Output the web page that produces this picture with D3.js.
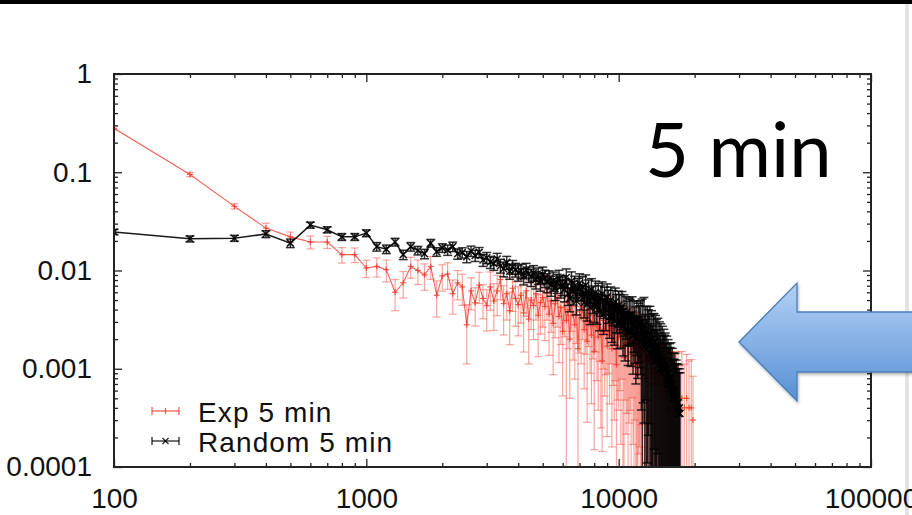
<!DOCTYPE html>
<html><head><meta charset="utf-8">
<script src="https://cdn.jsdelivr.net/npm/d3@7"></script>
<style>body{margin:0;background:#fff;overflow:hidden;} svg{display:block;}</style>
</head><body><svg id="c" width="912" height="515"></svg>
<script>
// ---------- data ----------
const xTicks = [100, 1000, 10000, 100000];
const xTickLabels = ["100", "1000", "10000", "100000"];
const yTicks = [1, 0.1, 0.01, 0.001, 0.0001];
const yTickLabels = ["1", "0.1", "0.01", "0.001", "0.0001"];
const seriesNames = ["Exp 5 min", "Random 5 min"];
const titleText = "5 min";

// bin sizes (x) ; null value = empty bin (not drawn on log scale)
const expBins = [
100,200,300,400,500,600,700,800,900,1000,
1100,1200,1300,1400,1500,1600,1700,1800,1900,2000,
2100,2200,2300,2400,2500,2600,2700,2800,2900,3000,
3100,3200,3300,3400,3500,3600,3700,3800,3900,4000,
4100,4200,4300,4400,4500,4600,4700,4800,4900,5000,
5100,5200,5300,5400,5500,5600,5700,5800,5900,6000,
6100,6200,6300,6400,6500,6600,6700,6800,6900,7000,
7100,7200,7300,7400,7500,7600,7700,7800,7900,8000,
8100,8200,8300,8400,8500,8600,8700,8800,8900,9000,
9100,9200,9300,9400,9500,9600,9700,9800,9900,10000,
10100,10200,10300,10400,10500,10600,10700,10800,10900,11000,
11100,11200,11300,11400,11500,11600,11700,11800,11900,12000,
12100,12200,12300,12400,12500,12600,12700,12800,12900,13000,
13100,13200,13300,13400,13500,13600,13700,13800,13900,14000,
14100,14200,14300,14400,14500,14600,14700,14800,14900,15000,
15100,15200,15300,15400,15500,15600,15700,15800,15900,16000,
16100,16200,16300,16400,16500,16600,16700,16800,16900,17000,
17100,17200,17300,17400,17500,17600,17700,17800,17900,18000,
18100,18200,18300,18400,18500,18600,18700,18800,18900,19000,
19100,19200,19300,19400,19500,19600,19700];
const expValues = [
0.28,0.095,0.045,0.027,0.022,0.0195,0.0195,0.0145,0.0145,0.0106,
0.011,0.0102,0.006,0.0075,0.011,0.01,0.009,0.011,0.0056,0.0088,
0.0092,0.0058,0.0075,0.0068,0.0028,0.0062,0.0047,0.0071,0.0052,0.0044,
0.0068,0.0049,0.0062,0.0081,0.0046,0.0058,0.0039,0.0066,0.0052,0.0045,
0.0056,0.0037,0.0062,0.0032,0.005,0.0044,0.0058,0.0035,0.0047,0.0053,
0.0043,0.006,0.0036,0.0049,0.0029,0.0046,0.0053,0.0034,0.0042,0.0024,
0.0047,0.0031,0.004,0.002,0.005,0.0035,0.0028,0.0043,0.0016,0.0038,
0.0033,0.0044,0.0025,0.0037,0.0019,0.004,0.003,0.0022,0.0035,0.0015,
0.0037,0.0027,0.0021,0.0034,0.0025,0.0012,0.0031,0.0024,0.0029,0.0017,
0.003,0.0022,0.0033,0.0016,0.0026,0.002,0.0027,0.0011,0.0024,0.0021,
0.0025,0.0017,0.0028,0.0021,0.0013,0.0024,0.0018,0.0022,0.0012,0.002,
0.0021,0.0014,0.0023,0.0017,0.0011,0.002,0.0016,0.0018,0.0009,0.0017,
0.0016,0.0012,0.0018,0.0013,null,0.0016,0.0012,0.0014,0.0008,0.0013,
0.0012,null,0.0014,0.001,0.0007,0.0012,null,0.001,0.0007,0.0009,
0.0009,0.0007,null,0.0008,0.0006,null,0.0007,0.0008,null,0.0007,
0.0007,null,0.0008,0.0005,null,0.0006,null,0.0007,0.0004,null,
0.0006,null,0.0007,null,0.0004,null,0.0005,null,0.0006,null,
null,0.0005,null,null,0.0004,null,null,0.0005,null,null,
null,0.0004,null,null,null,0.0005,null,null,null,0.0004,
null,null,null,0.0004,null,null,0.0003];
const expRelErr = [
0.04,0.05,0.06,0.12,0.12,0.15,0.14,0.18,0.17,0.2,
0.22,0.25,0.35,0.3,0.24,0.28,0.3,0.26,0.4,0.3,
0.3,0.38,0.33,0.35,0.6,0.36,0.42,0.35,0.38,0.45,
0.42,0.5,0.44,0.38,0.52,0.46,0.55,0.42,0.48,0.52,
0.48,0.6,0.45,0.65,0.5,0.55,0.46,0.62,0.52,0.5,
0.55,0.48,0.62,0.52,0.7,0.55,0.5,0.66,0.58,0.78,
0.55,1.1,0.6,0.75,0.52,0.65,0.72,0.58,1.2,0.62,
0.66,0.55,0.75,0.62,0.85,0.58,0.7,0.8,0.64,0.9,
0.6,0.72,0.82,0.65,0.9,0.88,0.68,0.78,0.7,0.88,
0.7,0.8,0.66,0.9,0.74,0.85,0.72,1.1,0.8,0.82,
0.76,0.9,0.72,1.1,0.95,0.8,0.88,0.84,1.15,0.86,
0.82,1.05,0.78,0.9,1.2,0.85,0.95,1.1,1.3,0.92,
0.9,1.1,0.85,1.2,1.3,0.95,1.1,1.0,1.4,1.05,
1.1,1.2,0.95,1.3,1.4,1.05,1.2,1.15,1.5,1.2,
1.2,1.4,1.1,1.3,1.5,1.2,1.4,1.3,1.6,1.35,
1.3,1.5,1.2,1.6,1.4,1.5,1.7,1.3,1.8,1.5,
1.5,1.7,1.3,1.9,1.6,1.5,1.8,1.6,1.5,1.9,
1.6,1.9,1.4,2.0,1.7,1.9,1.6,2.0,1.7,1.9,
2.0,1.8,2.1,1.7,2.0,1.8,2.1,2.0,1.7,2.0,
1.8,2.0,1.7,2.1,1.8,2.0,1.8];

const randBins = [
100,200,300,400,500,600,700,800,900,1000,
1100,1200,1300,1400,1500,1600,1700,1800,1900,2000,
2100,2200,2300,2400,2500,2600,2700,2800,2900,3000,
3100,3200,3300,3400,3500,3600,3700,3800,3900,4000,
4100,4200,4300,4400,4500,4600,4700,4800,4900,5000,
5100,5200,5300,5400,5500,5600,5700,5800,5900,6000,
6100,6200,6300,6400,6500,6600,6700,6800,6900,7000,
7100,7200,7300,7400,7500,7600,7700,7800,7900,8000,
8100,8200,8300,8400,8500,8600,8700,8800,8900,9000,
9100,9200,9300,9400,9500,9600,9700,9800,9900,10000,
10100,10200,10300,10400,10500,10600,10700,10800,10900,11000,
11100,11200,11300,11400,11500,11600,11700,11800,11900,12000,
12100,12200,12300,12400,12500,12600,12700,12800,12900,13000,
13100,13200,13300,13400,13500,13600,13700,13800,13900,14000,
14100,14200,14300,14400,14500,14600,14700,14800,14900,15000,
15100,15200,15300,15400,15500,15600,15700,15800,15900,16000,
16100,16200,16300,16400,16500,16600,16700,16800,16900,17000,
17100,17200,17300,17400,17500];
const randValues = [
0.0247,0.021,0.0213,0.0235,0.019,0.029,0.026,0.022,0.022,0.024,
0.0175,0.0165,0.0195,0.0145,0.0175,0.016,0.0148,0.019,0.0155,0.017,
0.0162,0.0175,0.0148,0.0152,0.0138,0.0158,0.0142,0.0153,0.0128,0.0135,
0.0122,0.0118,0.0131,0.0112,0.0104,0.0121,0.0098,0.0109,0.0102,0.0095,
0.0099,0.0088,0.0101,0.0092,0.0086,0.0095,0.0081,0.0089,0.0078,0.0091,
0.0084,0.0076,0.0082,0.0071,0.0079,0.0066,0.0075,0.0083,0.0069,0.0072,
0.0064,0.0085,0.0058,0.0052,0.0078,0.0061,0.007,0.0049,0.0066,0.0074,
0.0055,0.0068,0.0047,0.0071,0.0045,0.0062,0.0042,0.0064,0.0053,0.0044,
0.006,0.0043,0.0056,0.0038,0.0052,0.0058,0.0036,0.005,0.004,0.0054,
0.0046,0.0034,0.005,0.0032,0.0045,0.0031,0.0048,0.004,0.0029,0.0044,
0.004,0.003,0.0043,0.0027,0.0039,0.0025,0.0037,0.0033,0.0024,0.0035,
0.0034,0.0024,0.0036,0.0022,0.0032,0.0027,0.002,0.0031,0.0021,0.0029,
0.0027,0.0029,0.0019,0.0025,0.0018,0.0028,0.0017,0.0024,0.0016,0.0022,
0.0021,0.0017,0.0023,0.0014,0.002,0.0013,0.0018,0.0019,0.0012,0.0017,
0.0016,0.0012,0.0017,0.0011,0.0015,0.001,0.0014,0.0009,0.0013,0.001,
0.0012,0.001,0.0011,0.0008,0.001,0.0007,0.0009,0.0007,0.0008,0.0007,
0.0008,0.0006,0.0007,0.0005,0.0006,0.0005,0.0006,0.00045,0.0005,0.00045,
0.0004,0.00045,0.00035,0.0004,0.00035];
const randRelErr = [
0.06,0.07,0.07,0.08,0.1,0.07,0.07,0.08,0.08,0.08,
0.1,0.1,0.09,0.11,0.1,0.1,0.11,0.09,0.1,0.1,
0.12,0.11,0.12,0.12,0.13,0.12,0.13,0.12,0.14,0.13,
0.14,0.15,0.14,0.16,0.17,0.15,0.17,0.16,0.16,0.18,
0.17,0.19,0.17,0.18,0.2,0.18,0.2,0.19,0.21,0.19,
0.2,0.22,0.21,0.23,0.22,0.25,0.22,0.21,0.24,0.23,
0.25,0.22,0.24,0.27,0.24,0.27,0.25,0.28,0.26,0.25,
0.28,0.27,0.3,0.27,0.32,0.29,0.33,0.29,0.31,0.33,
0.3,0.34,0.32,0.36,0.34,0.32,0.38,0.35,0.39,0.35,
0.37,0.4,0.36,0.42,0.39,0.44,0.38,0.42,0.45,0.4,
0.43,0.46,0.42,0.5,0.45,0.52,0.46,0.48,0.55,0.5,
0.5,0.56,0.5,0.6,0.54,0.58,0.65,0.56,0.62,0.6,
0.62,0.7,0.8,1.05,0.75,0.9,1.1,0.8,1.0,0.95,
0.9,1.02,0.88,1.05,0.95,1.1,1.0,0.92,1.08,1.05,
0.98,1.05,0.92,1.1,1.0,1.15,1.05,1.2,1.08,1.15,
1.1,1.2,1.1,1.25,1.15,1.3,1.2,1.3,1.25,1.35,
1.3,1.4,1.3,1.45,1.4,1.5,1.4,1.5,1.45,1.5,
1.5,1.45,1.6,1.5,1.6];

// ---------- drawing ----------
const svg = d3.select("#c");
const W = 912, H = 515;
const plot = {left: 114, right: 871, top: 74, bottom: 467};
const x = d3.scaleLog().domain([100, 100000]).range([plot.left, plot.right]);
const y = d3.scaleLog().domain([0.0001, 1]).range([plot.bottom, plot.top]);

// slide frame
svg.append("rect").attr("x", 0).attr("y", 0).attr("width", W).attr("height", H).attr("fill", "#fff");
svg.append("rect").attr("x", 0).attr("y", 0).attr("width", W).attr("height", 4).attr("fill", "#000");
svg.append("rect").attr("x", 905).attr("y", 4).attr("width", 4).attr("height", H).attr("fill", "#e4e4e4");

const tickFont = "'Liberation Sans', Arial, Helvetica, sans-serif";

// minor tick values
const xMinor = [], yMinor = [];
[100, 1000, 10000].forEach(d => { for (let k = 2; k <= 9; k++) xMinor.push(k * d); });
[0.0001, 0.001, 0.01, 0.1].forEach(d => { for (let k = 2; k <= 9; k++) yMinor.push(k * d); });

function styleAxis(g) {
  g.select(".domain").remove();
  g.selectAll(".tick line").attr("stroke", "#222").attr("stroke-width", 1.3);
}

// bottom
svg.append("g").attr("transform", `translate(0,${plot.bottom})`)
  .call(d3.axisBottom(x).tickValues(xTicks).tickFormat((d, i) => xTickLabels[i]).tickSize(-8).tickSizeOuter(0).tickPadding(21))
  .call(styleAxis)
  .call(g => g.selectAll("text").attr("font-family", tickFont).attr("font-size", 28).attr("fill", "#111"));
svg.append("g").attr("transform", `translate(0,${plot.bottom})`)
  .call(d3.axisBottom(x).tickValues(xMinor).tickFormat("").tickSize(-4).tickSizeOuter(0)).call(styleAxis);
// top
svg.append("g").attr("transform", `translate(0,${plot.top})`)
  .call(d3.axisTop(x).tickValues(xTicks).tickFormat("").tickSize(-8).tickSizeOuter(0)).call(styleAxis);
svg.append("g").attr("transform", `translate(0,${plot.top})`)
  .call(d3.axisTop(x).tickValues(xMinor).tickFormat("").tickSize(-4).tickSizeOuter(0)).call(styleAxis);
// left
svg.append("g").attr("transform", `translate(${plot.left},0)`)
  .call(d3.axisLeft(y).tickValues(yTicks).tickFormat((d, i) => yTickLabels[i]).tickSize(-8).tickSizeOuter(0).tickPadding(22))
  .call(styleAxis)
  .call(g => g.selectAll("text").attr("font-family", tickFont).attr("font-size", 28).attr("fill", "#111"));
svg.append("g").attr("transform", `translate(${plot.left},0)`)
  .call(d3.axisLeft(y).tickValues(yMinor).tickFormat("").tickSize(-4).tickSizeOuter(0)).call(styleAxis);
// right
svg.append("g").attr("transform", `translate(${plot.right},0)`)
  .call(d3.axisRight(y).tickValues(yTicks).tickFormat("").tickSize(-8).tickSizeOuter(0)).call(styleAxis);
svg.append("g").attr("transform", `translate(${plot.right},0)`)
  .call(d3.axisRight(y).tickValues(yMinor).tickFormat("").tickSize(-4).tickSizeOuter(0)).call(styleAxis);

// clip
svg.append("clipPath").attr("id", "pc").append("rect")
  .attr("x", plot.left).attr("y", plot.top).attr("width", plot.right - plot.left).attr("height", plot.bottom - plot.top);

function buildSeries(bins, vals, rel) {
  return bins.map((b, i) => ({x: b, v: vals[i], lo: vals[i] == null ? null : vals[i] * (1 - rel[i]),
                               hi: vals[i] == null ? null : vals[i] * (1 + rel[i])}));
}
const expData = buildSeries(expBins, expValues, expRelErr);
const randData = buildSeries(randBins, randValues, randRelErr);

function yClamp(v) { return v <= 0.00005 ? plot.bottom + 5 : y(v); }

function drawSeries(data, st) {
  const g = svg.append("g").attr("clip-path", "url(#pc)");
  const pts = data.filter(d => d.v != null);
  const bars = g.append("g").attr("stroke", st.color).attr("stroke-opacity", st.barOpacity)
    .attr("stroke-width", st.barWidth).attr("fill", "none");
  pts.forEach(d => {
    const cx = x(d.x), yh = y(d.hi), yl = yClamp(d.lo);
    bars.append("line").attr("x1", cx).attr("x2", cx).attr("y1", yh).attr("y2", yl);
    bars.append("line").attr("x1", cx - st.cap).attr("x2", cx + st.cap).attr("y1", yh).attr("y2", yh);
    if (d.lo > 0.00005) bars.append("line").attr("x1", cx - st.cap).attr("x2", cx + st.cap).attr("y1", yl).attr("y2", yl);
  });
  const line = d3.line().defined(d => d.v != null).x(d => x(d.x)).y(d => y(d.v));
  g.append("path").datum(data).attr("d", line).attr("fill", "none")
    .attr("stroke", st.color).attr("stroke-opacity", st.lineOpacity).attr("stroke-width", st.lineWidth);
  const mk = g.append("g").attr("stroke", st.color).attr("stroke-width", st.markWidth).attr("stroke-opacity", st.lineOpacity);
  pts.forEach(d => {
    const cx = x(d.x), cy = y(d.v), s = st.size;
    if (st.marker === "+") {
      mk.append("line").attr("x1", cx - s).attr("x2", cx + s).attr("y1", cy).attr("y2", cy);
      mk.append("line").attr("x1", cx).attr("x2", cx).attr("y1", cy - s).attr("y2", cy + s);
    } else {
      mk.append("line").attr("x1", cx - s).attr("x2", cx + s).attr("y1", cy - s).attr("y2", cy + s);
      mk.append("line").attr("x1", cx - s).attr("x2", cx + s).attr("y1", cy + s).attr("y2", cy - s);
    }
  });
}
const expColor = "#f03a2a", randColor = "#000000";
drawSeries(expData, {color: expColor, barOpacity: 0.45, barWidth: 1.2, lineOpacity: 0.8, lineWidth: 1.1,
                     markWidth: 1.2, cap: 4, size: 3, marker: "+"});
drawSeries(randData, {color: randColor, barOpacity: 0.8, barWidth: 1.5, lineOpacity: 0.9, lineWidth: 1.5,
                      markWidth: 1.5, cap: 4.5, size: 3.5, marker: "x"});

// frame
svg.append("rect").attr("x", plot.left).attr("y", plot.top).attr("width", plot.right - plot.left).attr("height", plot.bottom - plot.top)
  .attr("fill", "none").attr("stroke", "#222").attr("stroke-width", 2);

// legend
const legend = svg.append("g");
const legItems = [{name: seriesNames[0], color: expColor, marker: "+", op: 0.8, y: 411},
                  {name: seriesNames[1], color: randColor, marker: "x", op: 0.85, y: 441}];
legItems.forEach(it => {
  const g = legend.append("g").attr("stroke", it.color).attr("stroke-opacity", it.op).attr("stroke-width", 1.3);
  g.append("line").attr("x1", 152).attr("x2", 179).attr("y1", it.y).attr("y2", it.y);
  g.append("line").attr("x1", 152).attr("x2", 152).attr("y1", it.y - 4).attr("y2", it.y + 4);
  g.append("line").attr("x1", 179).attr("x2", 179).attr("y1", it.y - 4).attr("y2", it.y + 4);
  const cx = 165.5, s = 3;
  if (it.marker === "+") {
    g.append("line").attr("x1", cx).attr("x2", cx).attr("y1", it.y - s).attr("y2", it.y + s);
  } else {
    g.append("line").attr("x1", cx - s).attr("x2", cx + s).attr("y1", it.y - s).attr("y2", it.y + s);
    g.append("line").attr("x1", cx - s).attr("x2", cx + s).attr("y1", it.y + s).attr("y2", it.y - s);
  }
  legend.append("text").attr("x", 198).attr("y", it.y + 11).attr("font-family", tickFont)
    .attr("font-size", 28).attr("letter-spacing", 1.1).attr("fill", "#111").text(it.name);
});

// title
svg.append("text").attr("x", 645).attr("y", 177).attr("font-family", "Lato, 'Open Sans', sans-serif")
  .attr("font-size", 76).attr("fill", "#000").text(titleText);

// arrow
const defs = svg.append("defs");
const grad = defs.append("linearGradient").attr("id", "ag").attr("x1", 0).attr("y1", 0).attr("x2", 0).attr("y2", 1);
grad.append("stop").attr("offset", "0%").attr("stop-color", "#b4d1f6");
grad.append("stop").attr("offset", "100%").attr("stop-color", "#5790d4");
const sh = defs.append("filter").attr("id", "sh").attr("x", "-10%").attr("y", "-10%").attr("width", "130%").attr("height", "130%");
sh.append("feDropShadow").attr("dx", 1).attr("dy", 2).attr("stdDeviation", 1.5).attr("flood-color", "#000").attr("flood-opacity", 0.3);
const arrowPts = [[739, 342], [797, 283], [797, 312], [920, 312], [920, 372], [797, 372], [797, 401]];
svg.append("path").attr("d", d3.line()(arrowPts) + "Z")
  .attr("fill", "url(#ag)").attr("stroke", "#4a7ebb").attr("stroke-width", 1.3).attr("filter", "url(#sh)");
</script>
</body></html>
